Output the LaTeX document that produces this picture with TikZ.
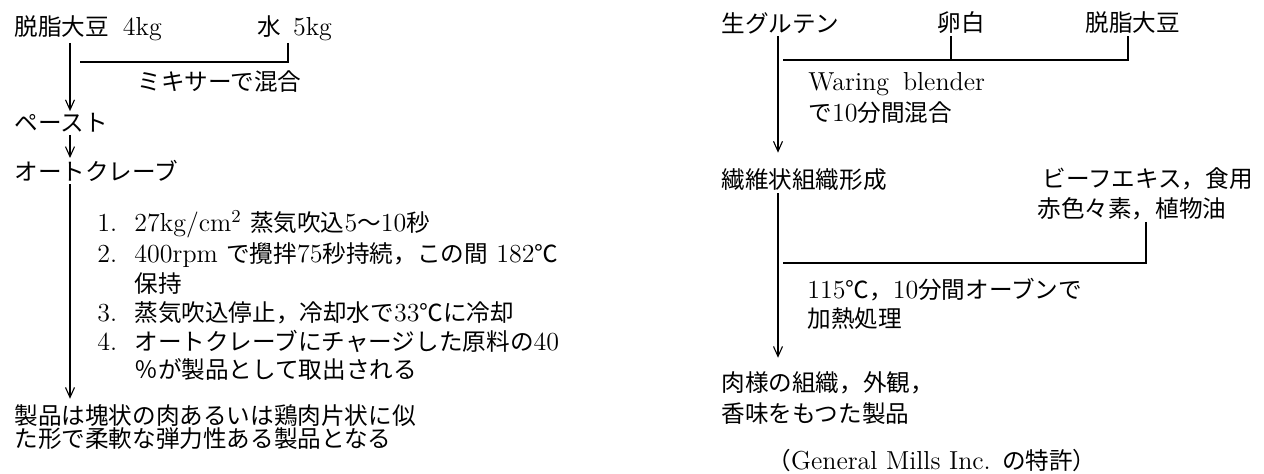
\documentclass[tikz,border=0pt]{standalone}
\usepackage{fontspec}
\newfontfamily\jp{Noto Sans CJK JP}[Scale=0.908]
\usetikzlibrary{arrows.meta}

\tikzstyle{txt}=[anchor=west, inner sep=1pt, font=\fontsize{13}{13.2}\selectfont]
\tikzstyle{row}=[txt, anchor=base west]
\tikzstyle{line}=[line width=0.55pt]
\tikzstyle{arrow}=[line width=0.55pt, -{Straight Barb[length=5pt, width=4.5pt]}]
\newcommand{\itemno}[1]{\makebox[18.5pt][l]{#1}}

\begin{document}
\begin{tikzpicture}[x=0.5pt, y=-0.5pt]
  \useasboundingbox (0,0) rectangle (1264,473);

  % left flow
  \coordinate (colL) at (70,0);
  \coordinate (mixL) at (80,62);
  \coordinate (mixR) at (288,62);
  \node[txt] (soy) at (12,28) {{\jp 脱脂大豆}\hspace{7pt}4kg};
  \node[txt] (water) at (255,28) {{\jp 水}\hspace{6pt}5kg};
  \node[txt] (mixer) at (135,82) {\jp ミキサーで混合};
  \node[txt] (paste) at (12,123) {\jp ペースト};
  \node[txt] (autoclave) at (12,171) {\jp オートクレーブ};
  \node[row] (step1) at (95,231) {\itemno{1.}27kg/cm\textsuperscript{2}\ {\jp 蒸気吹込}5{\jp ～}10{\jp 秒}};
  \node[row] (step2) at (95,262) {\itemno{2.}400rpm {\jp で攪拌}75{\jp 秒持続，この間} 182{\jp ℃}};
  \node[row] (step2b) at (95,292) {\itemno{}{\jp 保持}};
  \node[row] (step3) at (95,321.5) {\itemno{3.}{\jp 蒸気吹込停止，冷却水で}33{\jp ℃に冷却}};
  \node[row] (step4) at (95,350.5) {\itemno{4.}{\jp オートクレーブにチャージした原料の}40};
  \node[row] (step4b) at (95,378) {\itemno{}{\jp ％が製品として取出される}};
  \node[row] (product) at (12,424) {\jp 製品は塊状の肉あるいは鶏肉片状に似};
  \node[row] (product2) at (12,447) {\jp た形で柔軟な弾力性ある製品となる};

  \draw[arrow] (soy.south -| colL) -- (paste.north -| colL);
  \draw[line] (water.south -| mixR) -- (mixR) -- (mixL);
  \draw[arrow] (paste.south -| colL) -- (autoclave.north -| colL);
  \draw[arrow, shorten >=1.5pt] (autoclave.south -| colL) -- (product.north -| colL);

  % right flow
  \coordinate (colR) at (778,0);
  \coordinate (blendL) at (783,60);
  \coordinate (blendM) at (951,60);
  \coordinate (blendR) at (1128,60);
  \coordinate (ovenL) at (783,263);
  \coordinate (ovenR) at (1146,263);
  \node[txt] (gluten) at (719,23) {\jp 生グルテン};
  \node[txt] (egg) at (935,23) {\jp 卵白};
  \node[txt] (soy2) at (1083,23) {\jp 脱脂大豆};
  \node[row] (blender) at (806,90) {Waring\hspace{7pt}blender};
  \node[row] (blender2) at (806,121) {{\jp で}10{\jp 分間混合}};
  \node[txt] (fiber) at (719,180) {\jp 繊維状組織形成};
  \node[row] (beef) at (1040,187) {\jp ビーフエキス，食用};
  \node[row] (beef2) at (1035,217) {\jp 赤色々素，植物油};
  \node[row] (oven) at (805,298) {115{\jp ℃，}10{\jp 分間オーブンで}};
  \node[row] (oven2) at (805,327) {\jp 加熱処理};
  \node[row] (meat) at (719,391) {\jp 肉様の組織，外観，};
  \node[row] (meat2) at (719,422) {\jp 香味をもつた製品};
  \node[txt, anchor=center] (patent) at (932,461) {{\jp （}General Mills Inc. {\jp の特許）}};

  \draw[arrow, shorten >=7pt] (gluten.south -| colR) -- (fiber.north -| colR);
  \draw[line] (egg.south -| blendM) -- (blendM);
  \draw[line] (soy2.south -| blendR) -- (blendR) -- (blendL);
  \draw[arrow, shorten >=5.5pt] (fiber.south -| colR) -- (meat.north -| colR);
  \draw[line] (beef2.south -| ovenR) -- (ovenR) -- (ovenL);
\end{tikzpicture}
\end{document}
